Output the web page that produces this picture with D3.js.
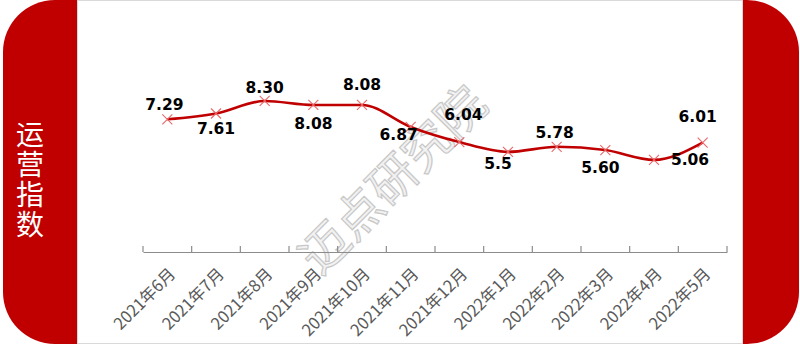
<!DOCTYPE html>
<html>
<head>
<meta charset="utf-8">
<script src="https://cdn.jsdelivr.net/npm/d3@7"></script>
<style>
  body { margin: 0; background: #fff; }
  svg { display: block; }
</style>
</head>
<body>
<script>
(function () {
  "use strict";

  var months = ["2021年6月", "2021年7月", "2021年8月", "2021年9月", "2021年10月", "2021年11月",
    "2021年12月", "2022年1月", "2022年2月", "2022年3月", "2022年4月", "2022年5月"];
  var values = [7.29, 7.61, 8.30, 8.08, 8.08, 6.87, 6.04, 5.5, 5.78, 5.60, 5.06, 6.01];
  var labels = ["7.29", "7.61", "8.30", "8.08", "8.08", "6.87", "6.04", "5.5", "5.78", "5.60", "5.06", "6.01"];
  // label offsets relative to point: [dx, dy] of text centre
  var labelPos = [[-3, -15], [0, 15], [0, -14], [0, 18], [0, -21], [-12, 7],
    [4, -28], [-10, 12], [-2, -14], [-5, 17], [36, 0], [-5, -26]];

  var width = 800, height = 348,
    red = "#c00000";

  var svg = d3.select("body").append("svg")
    .attr("width", width)
    .attr("height", height);

  // red rounded backing + white panel
  svg.append("rect")
    .attr("x", 3).attr("y", 0)
    .attr("width", 796).attr("height", 344)
    .attr("rx", 52).attr("ry", 52)
    .attr("fill", red);
  svg.append("rect")
    .attr("x", 77.5).attr("y", 0.5)
    .attr("width", 665).attr("height", 343)
    .attr("fill", "#fff")
    .attr("stroke", "#d9d9d9");

  // vertical title
  svg.append("text")
    .attr("x", 30)
    .attr("y", 120)
    .attr("fill", "#fff")
    .style("writing-mode", "vertical-rl")
    .style("text-orientation", "upright")
    .style("letter-spacing", "2px")
    .style("font-family", "'Noto Sans CJK SC', sans-serif")
    .style("font-size", "28px")
    .text("运营指数");

  var x = d3.scaleBand().domain(months).range([143, 727]);
  var y = d3.scaleLinear().domain([0, 10]).range([252, 70]);
  var cx = function (i) { return x(months[i]) + x.bandwidth() / 2; };

  // watermark
  svg.append("text")
    .attr("transform", "translate(393,180) rotate(-45)")
    .attr("text-anchor", "middle")
    .attr("dy", "0.35em")
    .attr("fill", "#f2f2f2")
    .attr("stroke", "#c8c8c8")
    .attr("stroke-width", 1.2)
    .style("font-family", "'Noto Sans CJK SC', sans-serif")
    .style("font-size", "48px")
    .text("迈点研究院");

  // axis
  var axis = svg.append("g")
    .attr("transform", "translate(0,252)")
    .call(d3.axisBottom(x).tickSize(0).tickFormat(""));
  axis.select(".domain").attr("stroke", "#8c8c8c").attr("stroke-width", 1.2);
  axis.selectAll(".tk")
    .data(d3.range(months.length + 1))
    .enter().append("line")
    .attr("class", "tk")
    .attr("x1", function (i) { return 143 + i * x.step(); })
    .attr("x2", function (i) { return 143 + i * x.step(); })
    .attr("y1", -6).attr("y2", 0)
    .attr("stroke", "#8c8c8c").attr("stroke-width", 1.2);

  svg.append("g").selectAll("text")
    .data(months)
    .enter().append("text")
    .attr("transform", function (d) {
      return "translate(" + (x(d) + x.bandwidth() / 2 + 5) + ",271) rotate(-45)";
    })
    .attr("text-anchor", "end")
    .attr("dy", "0.35em")
    .attr("fill", "#595959")
    .style("font-family", "'Noto Sans CJK SC', sans-serif")
    .style("font-size", "16.5px")
    .text(function (d) { return d; });

  // line
  var line = d3.line()
    .x(function (d, i) { return cx(i); })
    .y(function (d) { return y(d); })
    .curve(d3.curveMonotoneX);

  svg.append("path")
    .datum(values)
    .attr("d", line)
    .attr("fill", "none")
    .attr("stroke", red)
    .attr("stroke-width", 2.6);

  // x markers
  var m = 5;
  svg.append("g").selectAll("path")
    .data(values)
    .enter().append("path")
    .attr("d", function (d, i) {
      var px = cx(i), py = y(d);
      return "M" + (px - m) + "," + (py - m) + "L" + (px + m) + "," + (py + m) +
        "M" + (px - m) + "," + (py + m) + "L" + (px + m) + "," + (py - m);
    })
    .attr("stroke", "#e8696b")
    .attr("stroke-width", 1.1)
    .attr("fill", "none");

  // value labels
  svg.append("g").selectAll("text")
    .data(values)
    .enter().append("text")
    .attr("x", function (d, i) { return cx(i) + labelPos[i][0]; })
    .attr("y", function (d, i) { return y(d) + labelPos[i][1]; })
    .attr("dy", "0.36em")
    .attr("text-anchor", "middle")
    .attr("fill", "#000")
    .style("font-family", "'DejaVu Sans', sans-serif")
    .style("font-weight", "bold")
    .style("font-size", "15.5px")
    .text(function (d, i) { return labels[i]; });
})();
</script>
</body>
</html>
